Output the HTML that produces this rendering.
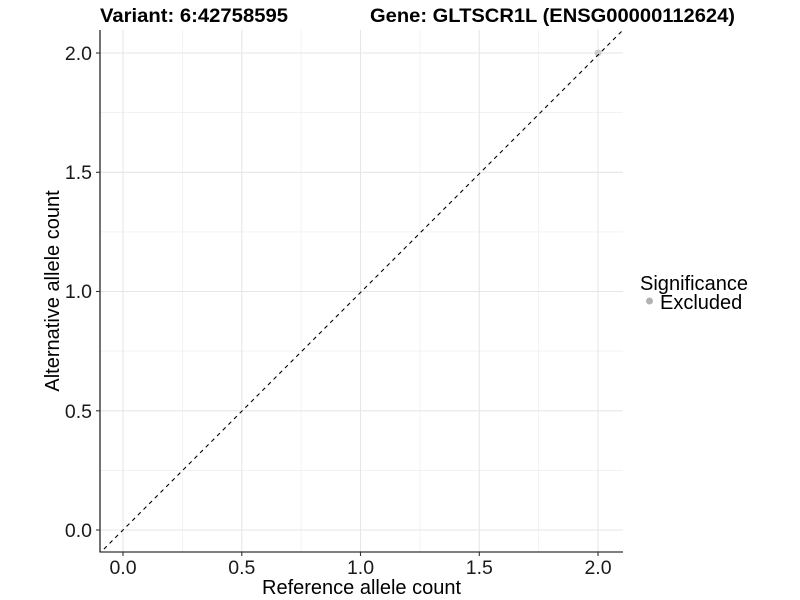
<!DOCTYPE html>
<html><head><meta charset="utf-8"><style>html,body{margin:0;padding:0;background:#fff}svg{display:block}</style></head>
<body>
<svg width="800" height="600" xmlns="http://www.w3.org/2000/svg" font-family="Liberation Sans, sans-serif">
<defs><clipPath id="c"><rect x="100" y="30" width="523" height="522"/></clipPath></defs>
<g stroke="#ebebeb" stroke-width="0.6">
<line x1="100" x2="623" y1="470.4" y2="470.4"/><line x1="100" x2="623" y1="351.1" y2="351.1"/><line x1="100" x2="623" y1="231.9" y2="231.9"/><line x1="100" x2="623" y1="112.6" y2="112.6"/>
<line y1="30" y2="552" x1="182.4" x2="182.4"/><line y1="30" y2="552" x1="301.1" x2="301.1"/><line y1="30" y2="552" x1="419.9" x2="419.9"/><line y1="30" y2="552" x1="538.6" x2="538.6"/>
</g>
<g stroke="#e6e6e6" stroke-width="1.1">
<line x1="100" x2="623" y1="530" y2="530"/><line x1="100" x2="623" y1="410.8" y2="410.8"/><line x1="100" x2="623" y1="291.5" y2="291.5"/><line x1="100" x2="623" y1="172.3" y2="172.3"/><line x1="100" x2="623" y1="53" y2="53"/>
<line y1="30" y2="552" x1="123" x2="123"/><line y1="30" y2="552" x1="241.8" x2="241.8"/><line y1="30" y2="552" x1="360.5" x2="360.5"/><line y1="30" y2="552" x1="479.3" x2="479.3"/><line y1="30" y2="552" x1="598" x2="598"/>
</g>
<circle cx="598" cy="53" r="3.5" fill="#cccccc"/>
<g clip-path="url(#c)"><line x1="70" y1="583" x2="660" y2="-7" stroke="#000" stroke-width="1.1" stroke-dasharray="4,4"/></g>
<line x1="100" y1="30" x2="100" y2="552.5" stroke="#000" stroke-width="1.1"/>
<line x1="99.5" y1="552" x2="623" y2="552" stroke="#000" stroke-width="1.1"/>
<g stroke="#333" stroke-width="1.1">
<line x1="96" x2="100" y1="530" y2="530"/><line x1="96" x2="100" y1="410.8" y2="410.8"/><line x1="96" x2="100" y1="291.5" y2="291.5"/><line x1="96" x2="100" y1="172.3" y2="172.3"/><line x1="96" x2="100" y1="53" y2="53"/>
<line y1="552" y2="556" x1="123" x2="123"/><line y1="552" y2="556" x1="241.8" x2="241.8"/><line y1="552" y2="556" x1="360.5" x2="360.5"/><line y1="552" y2="556" x1="479.3" x2="479.3"/><line y1="552" y2="556" x1="598" x2="598"/>
</g>
<g font-size="19.5" fill="#1a1a1a" text-anchor="end">
<text x="92" y="537">0.0</text><text x="92" y="418">0.5</text><text x="92" y="298">1.0</text><text x="92" y="179">1.5</text><text x="92" y="60">2.0</text>
</g>
<g font-size="19.5" fill="#1a1a1a" text-anchor="middle">
<text x="123" y="574">0.0</text><text x="241.8" y="574">0.5</text><text x="360.5" y="574">1.0</text><text x="479.3" y="574">1.5</text><text x="598" y="574">2.0</text>
</g>
<text x="262" y="594" font-size="20" fill="#000" textLength="199" lengthAdjust="spacingAndGlyphs">Reference allele count</text>
<text transform="translate(59,291) rotate(-90)" font-size="20" text-anchor="middle" fill="#000">Alternative allele count</text>
<text x="100" y="22" font-size="19.5" font-weight="bold" fill="#000" textLength="188" lengthAdjust="spacingAndGlyphs">Variant: 6:42758595</text>
<text x="370" y="22" font-size="19.5" font-weight="bold" fill="#000" textLength="365" lengthAdjust="spacingAndGlyphs">Gene: GLTSCR1L (ENSG00000112624)</text>
<text x="640" y="290" font-size="20" fill="#000" textLength="108" lengthAdjust="spacingAndGlyphs">Significance</text>
<circle cx="649.5" cy="301" r="3.5" fill="#b3b3b3"/>
<text x="660" y="309" font-size="20" fill="#000">Excluded</text>
</svg>
</body></html>
